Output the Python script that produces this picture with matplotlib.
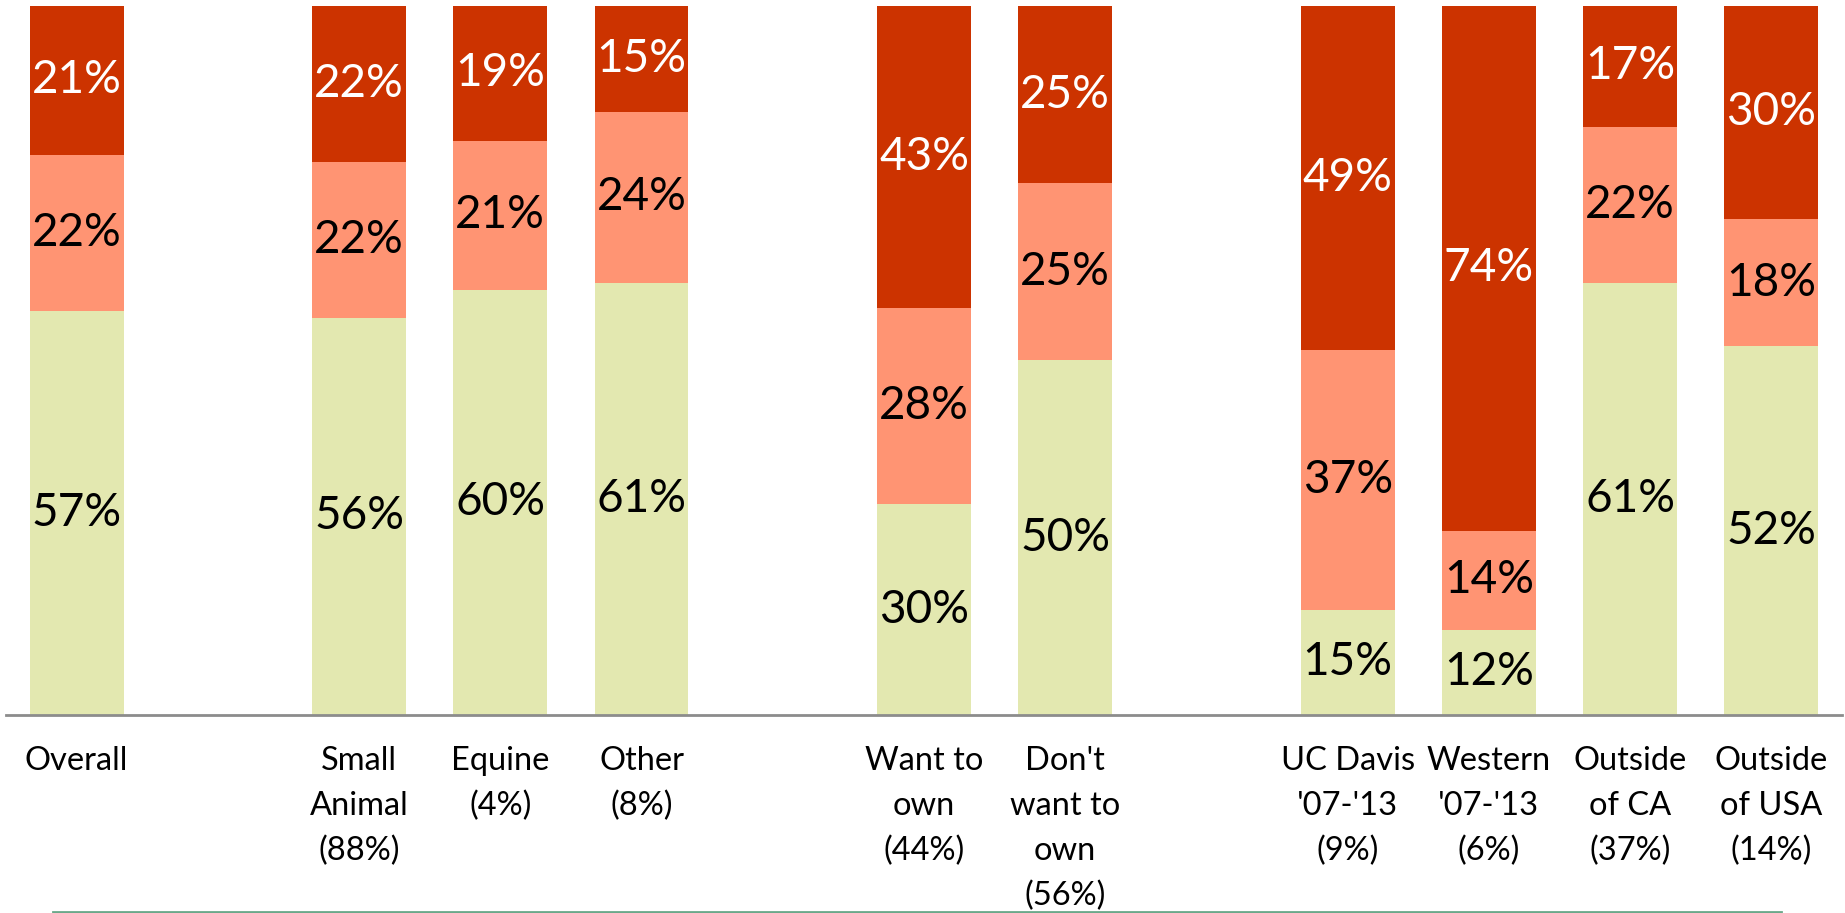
import matplotlib
matplotlib.use('Agg')
import matplotlib.pyplot as plt
from matplotlib.lines import Line2D

# Data (100% stacked, blank slots used as group gaps)
categories = ['Overall', '', 'Small\nAnimal\n(88%)', 'Equine\n(4%)', 'Other\n(8%)', '',
              'Want to\nown\n(44%)', "Don't\nwant to\nown\n(56%)", '',
              "UC Davis\n'07-'13\n(9%)", "Western\n'07-'13\n(6%)", 'Outside\nof CA\n(37%)',
              'Outside\nof USA\n(14%)']
bottom_vals = [57, None, 56, 60, 61, None, 30, 50, None, 15, 12, 61, 52]
middle_vals = [22, None, 22, 21, 24, None, 28, 25, None, 37, 14, 22, 18]
top_vals = [21, None, 22, 19, 15, None, 43, 25, None, 49, 74, 17, 30]

colors = ['#E3E8B0', '#FF9473', '#CC3300']
text_colors = ['black', 'black', 'white']

plt.rcParams['font.family'] = ['Lato', 'DejaVu Sans']

fig = plt.figure(figsize=(18.45, 9.13), dpi=100)
ax = fig.add_axes([6 / 1845, (913 - 715) / 913, (1842 - 6) / 1845, (715 - 6) / 913])

width = 0.665
for i in range(len(categories)):
    if bottom_vals[i] is None:
        continue
    segs = [bottom_vals[i], middle_vals[i], top_vals[i]]
    total = sum(segs)
    base = 0
    for v, c, tc in zip(segs, colors, text_colors):
        h = v / total * 100
        ax.bar(i, h, width=width, bottom=base, color=c, edgecolor='none')
        ax.text(i, base + h / 2, f'{v}%', ha='center', va='center',
                fontsize=33, color=tc)
        base += h

ax.set_xlim(-0.5, len(categories) - 0.5)
ax.set_ylim(0, 100)
ax.set_xticks(range(len(categories)))
ax.set_xticklabels(categories, fontsize=23.5, linespacing=1.63, va='top')
ax.tick_params(axis='x', length=0, pad=22)
ax.set_yticks([])
for s in ['top', 'right', 'left']:
    ax.spines[s].set_visible(False)
ax.spines['bottom'].set_color('#8C8C8C')
ax.spines['bottom'].set_linewidth(2)

# thin rule at the bottom of the slide
fig.add_artist(Line2D([53 / 1845, 1781 / 1845], [1.5 / 913, 1.5 / 913],
                      transform=fig.transFigure, color='#6AA88A', linewidth=2))

fig.savefig('out.png', dpi=100)
